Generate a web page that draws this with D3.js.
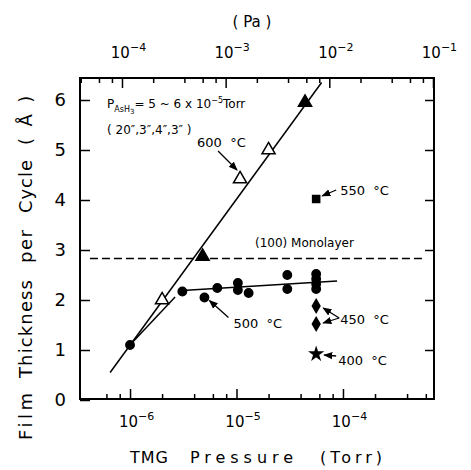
<!DOCTYPE html>
<meta charset="utf-8">
<script src="https://d3js.org/d3.v7.min.js"></script>
<style>
  body { margin: 0; background: #fff; }
  text { font-family: "DejaVu Sans", sans-serif; fill: #000; }
</style>
<div id="chart"></div>
<script>
  // ---- data ----
  // 600 C, open triangles
  var p600open = [2.0e-6, 1.08e-5, 2.0e-5];
  var v600open = [2.0, 4.42, 5.0];
  // 600 C, filled triangles
  var p600fill = [4.8e-6, 4.4e-5];
  var v600fill = [2.87, 5.95];
  // 500 C, filled circles
  var p500 = [1.0e-6, 3.1e-6, 5.0e-6, 6.6e-6, 1.03e-5, 1.03e-5, 1.3e-5, 3.0e-5, 3.0e-5, 5.6e-5, 5.6e-5, 5.6e-5, 5.6e-5];
  var v500 = [1.1, 2.17, 2.05, 2.24, 2.34, 2.2, 2.14, 2.5, 2.22, 2.52, 2.42, 2.32, 2.22];
  // 550 C square, 450 C diamonds, 400 C star
  var p550 = [5.6e-5], v550 = [4.02];
  var p450 = [5.6e-5, 5.6e-5], v450 = [1.88, 1.52];
  var p400 = [5.6e-5], v400 = [0.92];

  // drawn lines
  var fit600P = [6.5e-7, 6.3e-5], fit600V = [0.55, 6.35];
  var rise500P = [1.05e-6, 2.65e-6], rise500V = [1.15, 2.06];
  var flat500P = [3.1e-6, 8.8e-5], flat500V = [2.19, 2.38];
  var monoP = [4.2e-7, 5.6e-4], monoV = 2.83;

  // ticks
  var torrMajor = [1e-6, 1e-5, 1e-4];
  var torrMinor = [6e-7, 8e-7, 2e-6, 4e-6, 6e-6, 8e-6, 2e-5, 4e-5, 6e-5, 8e-5, 2e-4, 4e-4, 6e-4];
  var paMajor = [1e-4, 1e-3, 1e-2, 1e-1];
  var paMinor = [4e-5, 6e-5, 8e-5, 2e-4, 4e-4, 6e-4, 8e-4, 2e-3, 4e-3, 6e-3, 8e-3, 2e-2, 4e-2, 6e-2, 8e-2];
  var yTicks = [0, 1, 2, 3, 4, 5, 6];

  var W = 471, H = 470;
  var L = 80, R = 434, T = 78, B = 399;

  var svg = d3.select("#chart").append("svg")
    .attr("width", W).attr("height", H);

  var x = d3.scaleLog().domain([Math.pow(10, -6.47), Math.pow(10, -3.145)]).range([L, R]);
  var xPa = d3.scaleLog().domain([Math.pow(10, -4.405), Math.pow(10, -0.99)]).range([L, R]);
  var y = d3.scaleLinear().domain([0, 6.44]).range([400, T]);

  function expLabel(sel, exps, fs) {
    sel.selectAll(".tick text").each(function (d, i) {
      var t = d3.select(this).text(null).attr("text-anchor", "middle").attr("x", 6);
      t.append("tspan").text("10");
      t.append("tspan").attr("dy", "-0.6em").style("font-size", fs).text("\u2212" + exps[i]);
    });
  }

  // bottom axis
  var gb = svg.append("g").attr("transform", "translate(0," + B + ")")
    .call(d3.axisBottom(x).tickValues(torrMajor).tickSize(-10).tickSizeOuter(0));
  gb.selectAll(".tick text").attr("y", 28).attr("dy", 0).style("font-size", "15px");
  expLabel(gb, [6, 5, 4], "11px");
  svg.append("g").attr("transform", "translate(0," + B + ")")
    .call(d3.axisBottom(x).tickValues(torrMinor).tickSize(-5).tickFormat("").tickSizeOuter(0));

  // top axis (Pa)
  var gt = svg.append("g").attr("transform", "translate(0," + T + ")")
    .call(d3.axisTop(xPa).tickValues(paMajor).tickSize(-10).tickSizeOuter(0));
  gt.selectAll(".tick text").attr("y", -20).attr("dy", 0).style("font-size", "15px");
  expLabel(gt, [4, 3, 2, 1], "11px");
  svg.append("g").attr("transform", "translate(0," + T + ")")
    .call(d3.axisTop(xPa).tickValues(paMinor).tickSize(-5).tickFormat("").tickSizeOuter(0));

  // left / right axes
  var gl = svg.append("g").attr("transform", "translate(" + L + ",0)")
    .call(d3.axisLeft(y).tickValues(yTicks).tickSize(-10).tickPadding(14)
      .tickFormat(d3.format("d")).tickSizeOuter(0));
  gl.selectAll(".tick text").style("font-size", "18px");
  svg.append("g").attr("transform", "translate(" + R + ",0)")
    .call(d3.axisRight(y).tickValues(yTicks.slice(1)).tickSize(-9).tickFormat("").tickSizeOuter(0));

  svg.selectAll(".domain").remove();
  svg.selectAll(".tick line").attr("stroke", "#000").attr("stroke-width", 1.5);

  // frame
  svg.append("rect").attr("x", L).attr("y", T).attr("width", R - L).attr("height", B - T)
    .attr("fill", "none").attr("stroke", "#000").attr("stroke-width", 2);

  // axis titles
  svg.append("text").attr("x", 252).attr("y", 27).attr("text-anchor", "middle")
    .style("font-size", "15px").attr("xml:space", "preserve").text("( Pa )");

  var xWords = [["TMG", 130, 38], ["Pressure", 190, 103], ["(Torr)", 320, 62]];
  xWords.forEach(function (w) {
    svg.append("text").attr("x", w[1]).attr("y", 463).style("font-size", "16px")
      .attr("textLength", w[2]).attr("lengthAdjust", "spacing").text(w[0]);
  });

  var yWords = [["Film", 440, 47], ["Thickness", 378, 98], ["per", 263, 33], ["Cycle", 213, 53]];
  yWords.forEach(function (w) {
    svg.append("text").attr("transform", "translate(32," + w[1] + ") rotate(-90)")
      .style("font-size", "18px").attr("textLength", w[2]).attr("lengthAdjust", "spacing")
      .text(w[0]);
  });
  svg.append("text").attr("transform", "translate(32,145) rotate(-90)")
    .style("font-size", "18px").attr("xml:space", "preserve").text("(  \u00c5  )");

  // lines
  var line = d3.line().x(function (d) { return x(d[0]); }).y(function (d) { return y(d[1]); });
  function drawLine(ps, vs, dash) {
    svg.append("path").datum(d3.zip(ps, vs)).attr("d", line)
      .attr("fill", "none").attr("stroke", "#000").attr("stroke-width", 1.5)
      .attr("stroke-dasharray", dash || null);
  }
  drawLine(fit600P, fit600V);
  drawLine(rise500P, rise500V);
  drawLine(flat500P, flat500V);
  drawLine(monoP, [monoV, monoV], "8,4");

  // markers
  function drawPts(ps, vs, type, size, fill) {
    svg.append("g").selectAll("path").data(d3.zip(ps, vs)).enter().append("path")
      .attr("transform", function (d) { return "translate(" + x(d[0]) + "," + y(d[1]) + ")"; })
      .attr("d", d3.symbol().type(type).size(size))
      .attr("fill", fill).attr("stroke", "#000").attr("stroke-width", 1.5);
  }
  drawPts(p500, v500, d3.symbolCircle, 55, "#000");
  drawPts(p600open, v600open, d3.symbolTriangle, 75, "#fff");
  drawPts(p600fill, v600fill, d3.symbolTriangle, 75, "#000");
  drawPts(p550, v550, d3.symbolSquare, 50, "#000");
  drawPts(p450, v450, d3.symbolDiamond, 50, "#000");
  drawPts(p400, v400, d3.symbolStar, 42, "#000");

  // arrow head
  svg.append("defs").append("marker").attr("id", "ah")
    .attr("viewBox", "0 0 10 10").attr("refX", 9).attr("refY", 5)
    .attr("markerWidth", 7).attr("markerHeight", 7).attr("orient", "auto-start-reverse")
    .append("path").attr("d", "M0,1 L10,5 L0,9 Z").attr("fill", "#000");

  // annotations: [anchor P, anchor V, label dx, label dy, label, arrows [[x1,y1,x2,y2]...]]
  var notes = [
    [1.08e-5, 4.42, -43, -32, "600 \u00b0C", [[-22, -28, -3, -9]]],
    [5.0e-6, 2.05, 29, 30, "500 \u00b0C", [[24, 20, 5, 3]]],
    [5.6e-5, 4.02, 24, -4, "550 \u00b0C", [[20, -9, 6, -3]]],
    [5.6e-5, 1.52, 24, 0, "450 \u00b0C", [[23, -6, 7, -16], [23, -6, 7, -1]]],
    [5.6e-5, 0.92, 22, 11, "400 \u00b0C", [[20, 2, 8, 1]]]
  ];
  notes.forEach(function (n) {
    var ax = x(n[0]), ay = y(n[1]);
    svg.append("text").attr("x", ax + n[2]).attr("y", ay + n[3])
      .style("font-size", "13px").attr("xml:space", "preserve").text(n[4].replace(" ", "  "));
    n[5].forEach(function (a) {
      svg.append("line").attr("x1", ax + a[0]).attr("y1", ay + a[1])
        .attr("x2", ax + a[2]).attr("y2", ay + a[3])
        .attr("stroke", "#000").attr("stroke-width", 1.3).attr("marker-end", "url(#ah)");
    });
  });

  svg.append("text").attr("x", 255).attr("y", 247).style("font-size", "12px").text("(100) Monolayer");

  // P_AsH3 note
  var pt = svg.append("text").attr("x", 107).attr("y", 108).style("font-size", "12px");
  pt.append("tspan").text("P");
  pt.append("tspan").attr("dy", 4).style("font-size", "8px").text("AsH");
  pt.append("tspan").attr("dy", 2).style("font-size", "7px").text("3");
  pt.append("tspan").attr("dy", -6).text("= 5 ~ 6 x 10");
  pt.append("tspan").attr("dy", -5).style("font-size", "8px").text("\u22125");
  pt.append("tspan").attr("dy", 5).text("Torr");
  svg.append("text").attr("x", 107).attr("y", 134).style("font-size", "12px")
    .text("( 20\u2033,3\u2033,4\u2033,3\u2033 )");
</script>
